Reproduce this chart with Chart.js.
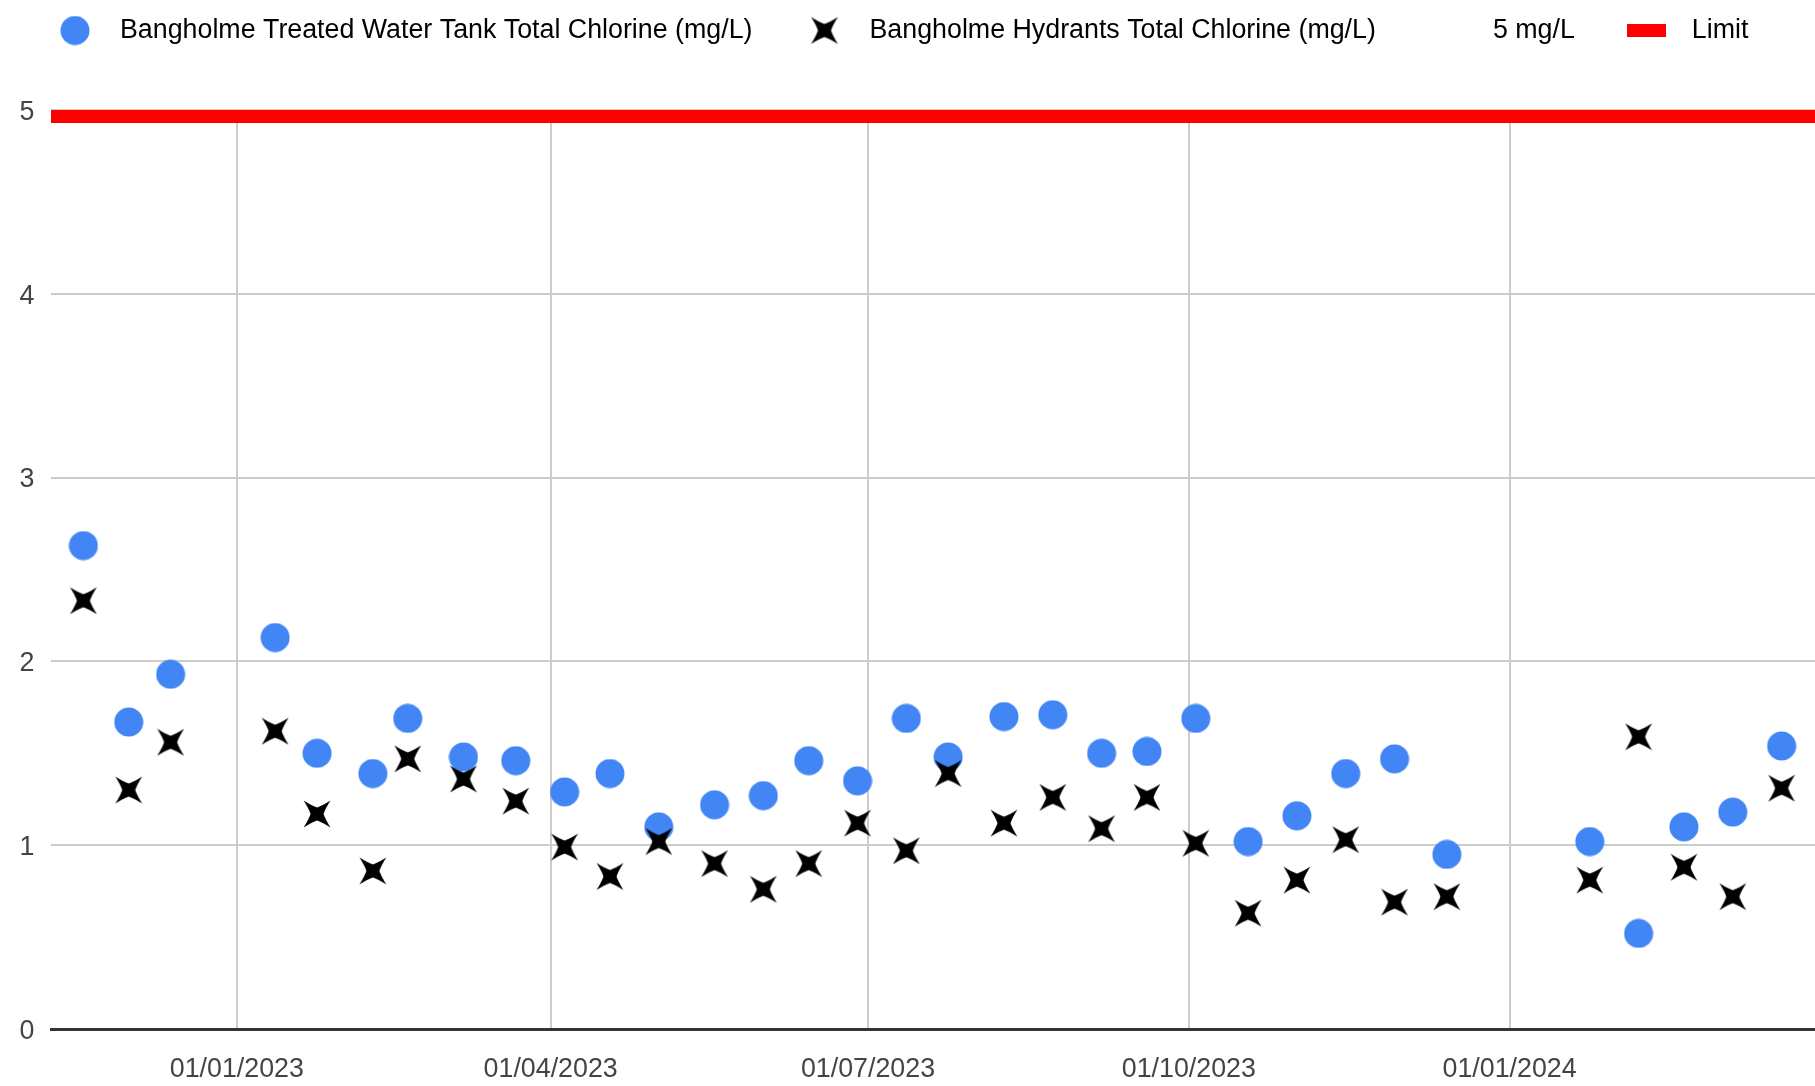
<!DOCTYPE html>
<html>
<head>
<meta charset="utf-8">
<script src="https://cdn.jsdelivr.net/npm/chart.js@4.4.1/dist/chart.umd.min.js"></script>
<style>
  html, body { margin: 0; padding: 0; background: #fff; overflow: hidden; }
  #wrap { width: 1815px; height: 1086px; }
</style>
</head>
<body>
<div id="wrap"><canvas id="c" width="1815" height="1086"></canvas></div>
<script>
// ---- data ----
const sampleDates = [
  '2022-11-18','2022-12-01','2022-12-13','2023-01-12','2023-01-24','2023-02-09','2023-02-19',
  '2023-03-07','2023-03-22','2023-04-05','2023-04-18','2023-05-02','2023-05-18','2023-06-01',
  '2023-06-14','2023-06-28','2023-07-12','2023-07-24','2023-08-09','2023-08-23','2023-09-06',
  '2023-09-19','2023-10-03','2023-10-18','2023-11-01','2023-11-15','2023-11-29','2023-12-14',
  '2024-01-24','2024-02-07','2024-02-20','2024-03-05','2024-03-19'
];
const tankChlorine = [
  2.63, 1.67, 1.93, 2.13, 1.50, 1.39, 1.69,
  1.48, 1.46, 1.29, 1.39, 1.10, 1.22, 1.27,
  1.46, 1.35, 1.69, 1.48, 1.70, 1.71, 1.50,
  1.51, 1.69, 1.02, 1.16, 1.39, 1.47, 0.95,
  1.02, 0.52, 1.10, 1.18, 1.54
];
const hydrantChlorine = [
  2.33, 1.30, 1.56, 1.62, 1.17, 0.86, 1.47,
  1.36, 1.24, 0.99, 0.83, 1.02, 0.90, 0.76,
  0.90, 1.12, 0.97, 1.39, 1.12, 1.26, 1.09,
  1.26, 1.01, 0.63, 0.81, 1.03, 0.69, 0.72,
  0.81, 1.59, 0.88, 0.72, 1.31
];
const limitValue = 5;
const tickDates  = ['2023-01-01','2023-04-01','2023-07-01','2023-10-01','2024-01-01'];
const tickLabels = ['01/01/2023','01/04/2023','01/07/2023','01/10/2023','01/01/2024'];
const seriesNames = [
  'Bangholme Treated Water Tank Total Chlorine (mg/L)',
  'Bangholme Hydrants Total Chlorine (mg/L)',
  '5 mg/L',
  'Limit'
];
const axisStart = '2022-11-08T17:00:00Z';
const axisEnd   = '2024-03-28T14:00:00Z';

// ---- helpers ----
const ts = s => Date.parse(s.length === 10 ? s + 'T00:00:00Z' : s);
const xMin = ts(axisStart), xMax = ts(axisEnd);
const tickValues = tickDates.map(ts);

const FONT = "'Liberation Sans', Arial, sans-serif";
const FS = 26.8;
const BLUE = '#4285f4';

function makeCanvas(w, h, draw) {
  const c = document.createElement('canvas');
  c.width = w; c.height = h;
  draw(c.getContext('2d'), w, h);
  return c;
}
const circleImg = makeCanvas(30, 30, (g) => {
  g.fillStyle = BLUE; g.beginPath(); g.arc(15, 15, 14.5, 0, Math.PI * 2); g.fill();
});
const starImg = makeCanvas(30, 30, (g) => {
  g.fillStyle = '#000';
  g.translate(15, 15);
  const R = 19, ri = 6.5, pull = 0.85;
  const pts = [];
  for (let i = 0; i < 4; i++) {
    const a = Math.PI / 4 + i * Math.PI / 2;
    pts.push([Math.cos(a) * R, Math.sin(a) * R]);
    const b = a + Math.PI / 4;
    pts.push([Math.cos(b) * ri, Math.sin(b) * ri]);
  }
  g.beginPath();
  g.moveTo(pts[0][0], pts[0][1]);
  for (let k = 1; k <= pts.length; k++) {
    const p = pts[(k - 1) % pts.length], q = pts[k % pts.length];
    const cx = (p[0] + q[0]) / 2 * pull, cy = (p[1] + q[1]) / 2 * pull;
    g.quadraticCurveTo(cx, cy, q[0], q[1]);
  }
  g.closePath();
  g.fill();
});
const blankImg = makeCanvas(1, 1, () => {});
const redRectImg = makeCanvas(39, 13, (g) => { g.fillStyle = '#ff0000'; g.fillRect(0, 0, 39, 13); });
const legendImgs = [circleImg, starImg, blankImg, redRectImg];

const legendPatchPlugin = {
  id: 'legendPatch',
  beforeLayout(chart) {
    const lg = chart.legend;
    if (lg && !lg._patched) {
      const origFit = lg.fit.bind(lg);
      lg.fit = function () { origFit(); this.height = 133.3; };
      const origDraw = lg.draw.bind(lg);
      lg.draw = function () {
        const ctx = this.ctx; ctx.save(); ctx.translate(3, 0); origDraw(); ctx.restore();
      };
      lg._patched = true;
    }
  }
};

new Chart(document.getElementById('c'), {
  type: 'scatter',
  data: {
    datasets: [
      {
        label: seriesNames[0],
        data: sampleDates.map((d, i) => ({ x: ts(d), y: tankChlorine[i] })),
        pointStyle: circleImg, pointRadius: 14.5, order: 1,
        backgroundColor: BLUE, borderColor: BLUE
      },
      {
        label: seriesNames[1],
        data: sampleDates.map((d, i) => ({ x: ts(d), y: hydrantChlorine[i] })),
        pointStyle: starImg, pointRadius: 14, order: 0,
        backgroundColor: '#000', borderColor: '#000'
      },
      {
        label: seriesNames[2],
        data: [], order: 3
      },
      {
        label: seriesNames[3],
        data: [{ x: xMin, y: limitValue }, { x: xMax, y: limitValue }],
        showLine: true, borderColor: '#ff0000', borderWidth: 26,
        pointRadius: 0, clip: 0, order: 2
      }
    ]
  },
  options: {
    responsive: false,
    animation: false,
    events: [],
    layout: { autoPadding: false, padding: { top: -23.3, left: 0, right: 0, bottom: 0 } },
    plugins: {
      tooltip: { enabled: false },
      legend: {
        position: 'top',
        align: 'start',
        labels: {
          usePointStyle: true,
          pointStyleWidth: 63.2,
          padding: 40.4,
          color: '#222',
          font: { family: FONT, size: FS },
          generateLabels: (chart) => chart.data.datasets.map((ds, i) => ({
            text: ds.label, datasetIndex: i, pointStyle: legendImgs[i],
            fillStyle: 'transparent', strokeStyle: 'transparent', lineWidth: 0, hidden: false
          }))
        }
      }
    },
    scales: {
      x: {
        type: 'linear',
        min: xMin, max: xMax,
        afterBuildTicks: (scale) => { scale.ticks = tickValues.map(v => ({ value: v })); },
        afterFit: (scale) => { scale.height = 57; scale.paddingLeft = 0; scale.paddingRight = 0; },
        ticks: {
          autoSkip: false, maxRotation: 0,
          padding: 24.5,
          color: '#444',
          font: { family: FONT, size: FS },
          callback: (v) => { const k = tickValues.indexOf(v); return k >= 0 ? tickLabels[k] : ''; }
        },
        grid: { color: '#cccccc', lineWidth: 2, drawTicks: false },
        border: { display: true, color: '#333333', width: 3 }
      },
      y: {
        min: 0, max: 5,
        afterFit: (scale) => { scale.width = 51; },
        ticks: {
          stepSize: 1, padding: 16.5, labelOffset: 2.5, color: '#444',
          font: { family: FONT, size: FS }
        },
        grid: {
          color: (c) => c.tick && c.tick.value === 0 ? '#333333' : '#cccccc',
          lineWidth: (c) => c.tick && c.tick.value === 0 ? 3 : 2,
          drawTicks: false
        },
        border: { display: false }
      }
    }
  },
  plugins: [legendPatchPlugin]
});
</script>
</body>
</html>
